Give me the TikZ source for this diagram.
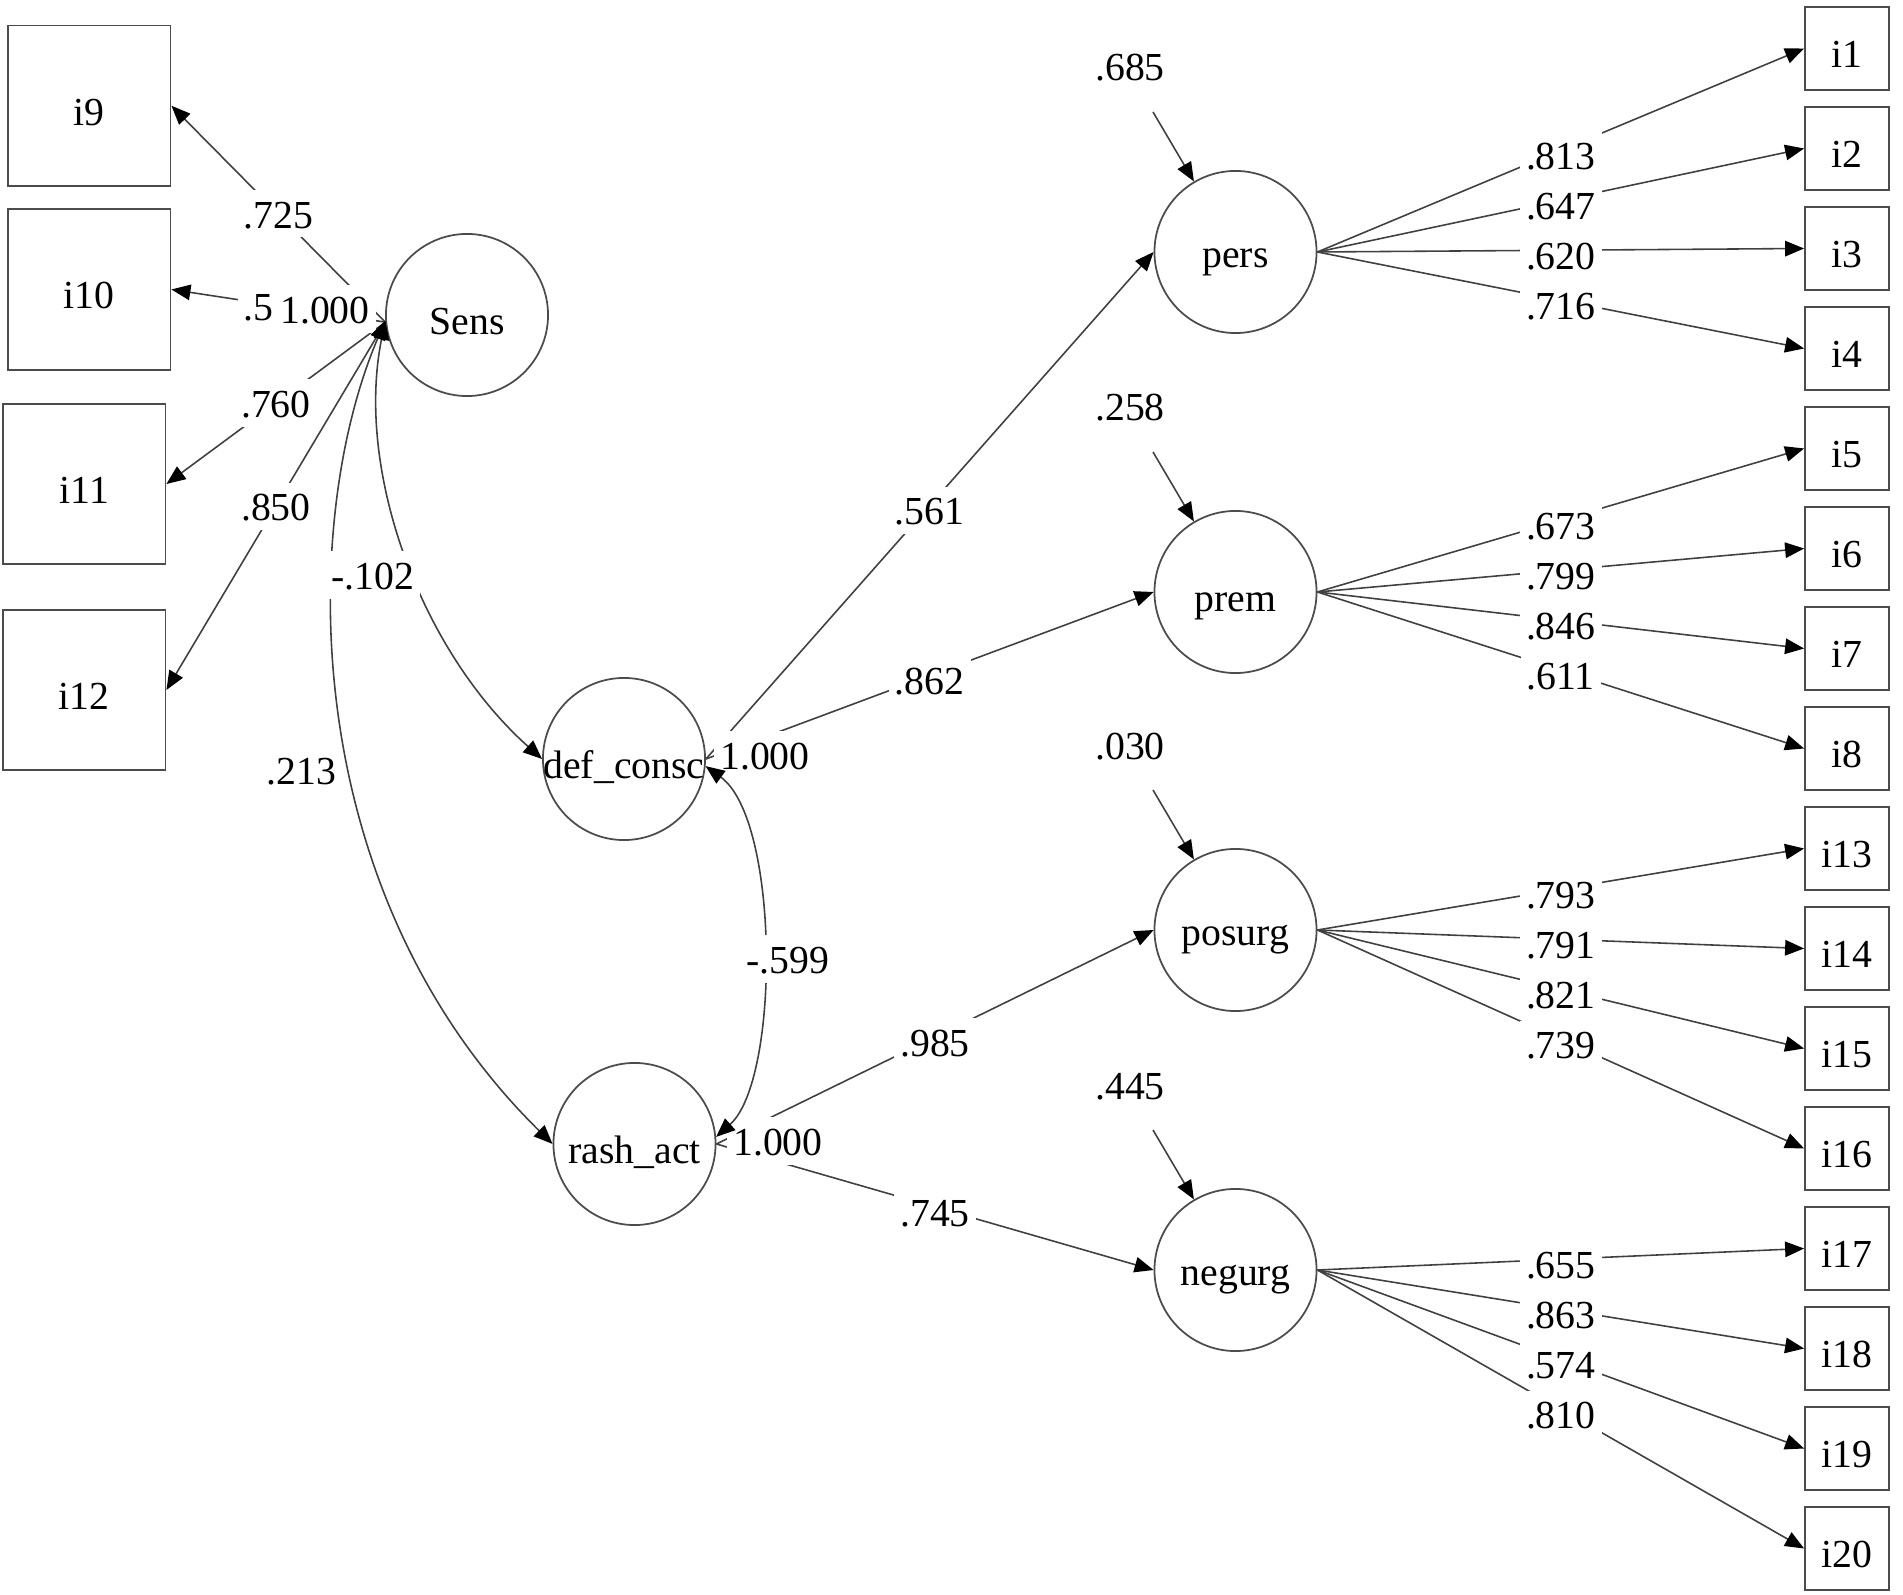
\documentclass[tikz,border=0pt]{standalone}
\usepackage{fontspec}
\setmainfont{Liberation Serif}
\usetikzlibrary{arrows.meta}
\begin{document}
\begin{tikzpicture}[x=0.01cm,y=-0.01cm,
  font=\fontsize{11.3}{13}\selectfont,
  ln/.style={draw=black!75, line width=0.45pt},
  tip/.tip={Triangle[length=5.4pt,width=4.4pt,fill=black,color=black]},
  arr/.style={ln, -tip},
  darr/.style={ln, tip-tip},
  obs/.style={draw=black!70, line width=0.5pt, rectangle, inner sep=0pt, text height=11pt, text depth=0pt},
  lobs/.style={obs, minimum width=1.625cm, minimum height=1.605cm},
  robs/.style={obs, minimum width=0.84cm, minimum height=0.83cm},
  lat/.style={draw=black!70, line width=0.5pt, circle, inner sep=0pt, minimum size=1.62cm, text height=11pt, text depth=0pt},
  lbl/.style={fill=white, inner xsep=1.7pt, inner ysep=0pt, text height=10.8pt, text depth=2.6pt},
  elbl/.style={lbl, yshift=-1.4pt},
  free/.style={inner sep=0pt},
]
\useasboundingbox (0,0) rectangle (1903,1595);

% left indicators
\node[lobs] (i9)  at (89.25,105.75) {i9};
\node[lobs] (i10) at (89.25,289.5) {i10};
\node[lobs] (i11) at (84.25,484) {i11};
\node[lobs] (i12) at (84.25,690) {i12};

% right indicators
\foreach \n [count=\k from 0] in {i1,i2,i3,i4,i5,i6,i7,i8,i13,i14,i15,i16,i17,i18,i19,i20}
  \node[robs] (\n) at (1847,48.5+100*\k) {\n};

% latent variables
\node[lat] (Sens)   at (467,315)     {\makebox[0pt]{Sens}};
\node[lat] (def)    at (624,759)     {\makebox[0pt]{def\_consc}};
\node[lat] (rash)   at (634.5,1144)  {\makebox[0pt]{rash\_act}};
\node[lat, text height=9pt] (pers)   at (1235.5,252) {\makebox[0pt]{pers}};
\node[lat] (prem)   at (1235.5,592)  {\makebox[0pt]{prem}};
\node[lat, text height=9pt] (posurg) at (1235.5,930) {\makebox[0pt]{posurg}};
\node[lat, text height=9pt] (negurg) at (1235.5,1270) {\makebox[0pt]{negurg}};

% Sens loadings
\draw[arr] (Sens.185) -- node[lbl]{.725} (i9.east);
\draw[arr] (Sens.185) -- node[lbl]{.5\phantom{00}} (i10.east);
\draw[arr] (Sens.185) -- node[lbl]{.760} (i11.east);
\draw[arr] (Sens.185) -- node[lbl]{.850} (i12.east);

% right loadings
\foreach \f/\i/\v in {pers/i1/.813, pers/i2/.647, pers/i3/.620, pers/i4/.716,
                      prem/i5/.673, prem/i6/.799, prem/i7/.846, prem/i8/.611,
                      posurg/i13/.793, posurg/i14/.791, posurg/i15/.821, posurg/i16/.739,
                      negurg/i17/.655, negurg/i18/.863, negurg/i19/.574, negurg/i20/.810}
  \draw[arr] (\f.east) -- node[elbl]{\v} (\i.west);

% structural paths
\draw[arr] (def.east)  -- node[elbl]{.561} (pers.west);
\draw[arr] (def.east)  -- node[elbl]{.862} (prem.west);
\draw[arr] (rash.east) -- node[elbl]{.985} (posurg.west);
\draw[arr] (rash.east) -- node[elbl]{.745} (negurg.west);

% residuals
\coordinate (epers)   at (1153,112);
\coordinate (eprem)   at (1153,452);
\coordinate (eposurg) at (1153,790);
\coordinate (enegurg) at (1153,1130);
\draw[arr] (epers) -- (pers);
\draw[arr] (eprem) -- (prem);
\draw[arr] (eposurg) -- (posurg);
\draw[arr] (enegurg) -- (negurg);
\node[free] (vpers)   at (1130,68)   {.685};
\node[free] (vprem)   at (1130,408)  {.258};
\node[free] (vposurg) at (1130,747)  {.030};
\node[free] (vnegurg) at (1130,1087) {.445};

% variances of exogenous factors
\node[lbl] (vs) at (325,309)  {1.000};
\node[lbl] (vd) at (765,755)  {1.000};
\node[lbl] (vr) at (778,1141) {1.000};

% covariances
\draw[darr] (Sens.184) .. controls (355,470) and (420,650) .. (def.west);
\draw[darr] (Sens.184) .. controls (300,520) and (295,890) .. (rash.west);
\draw[darr] (def.-5) .. controls (780,820) and (780,1080) .. (rash.5);
\node[lbl] (c1) at (373,575) {-.102};
\node[lbl] (c2) at (301.7,770) {.213};
\node[lbl] (c3) at (788,959) {-.599};
\end{tikzpicture}
\end{document}
